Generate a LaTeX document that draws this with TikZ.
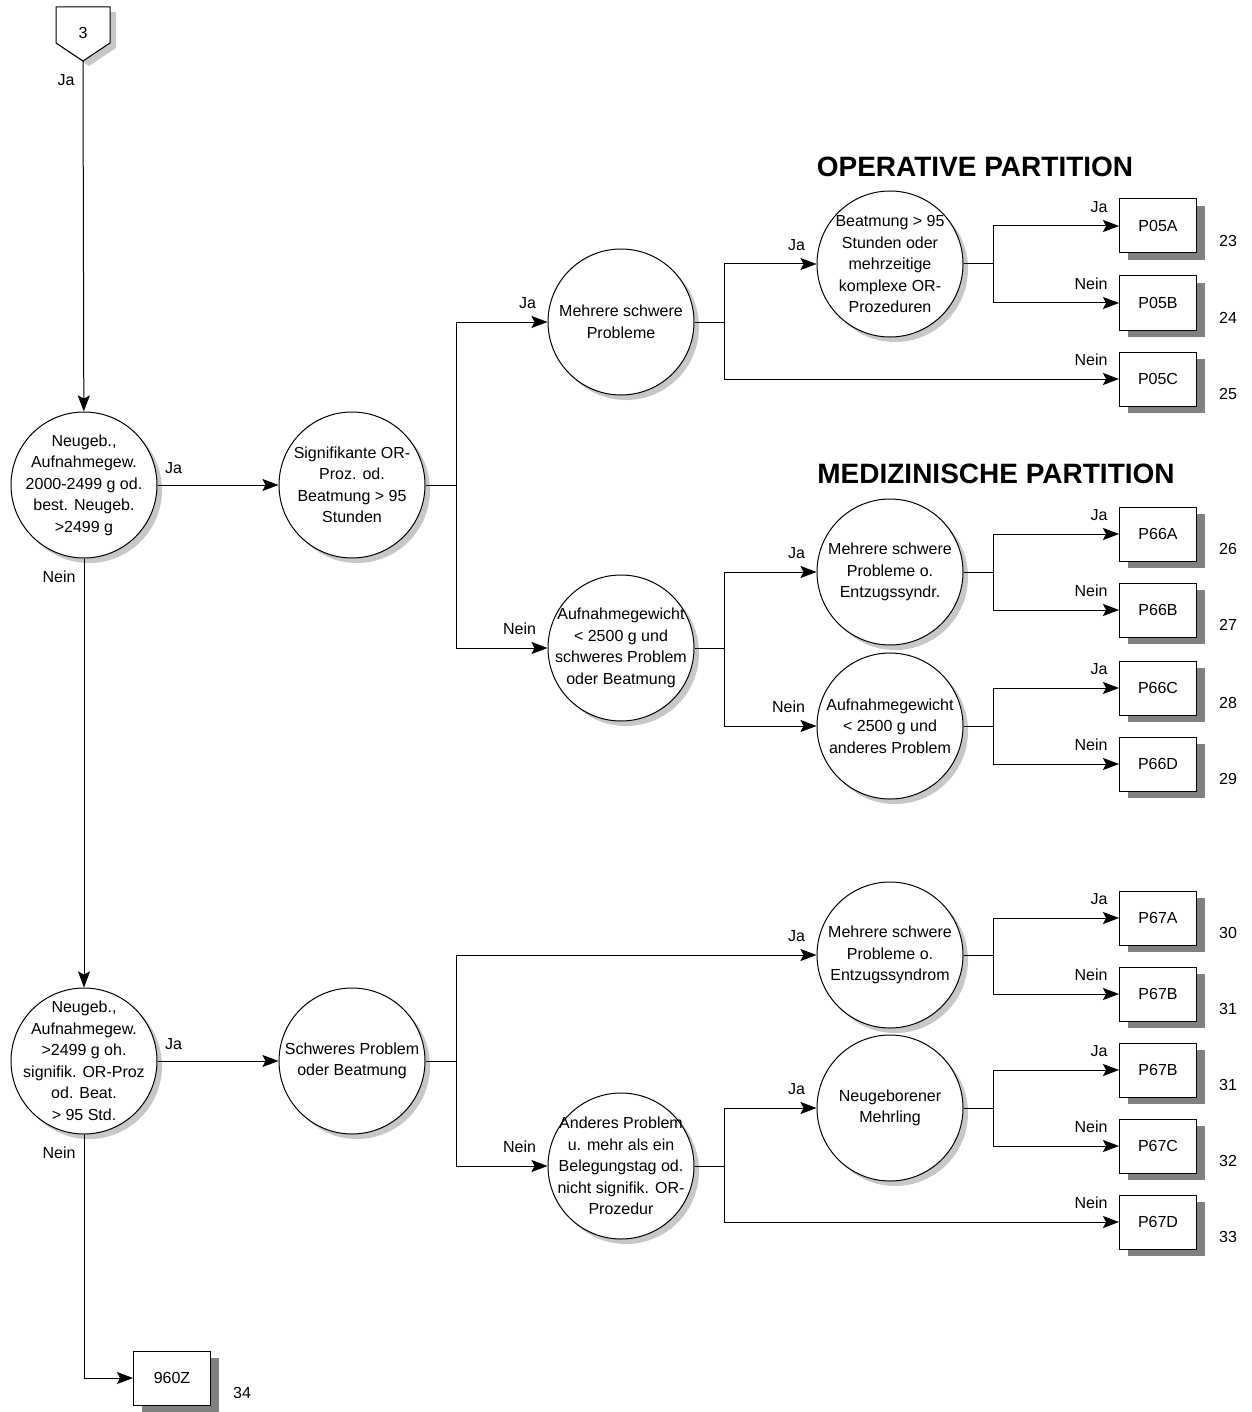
\documentclass[tikz,border=0pt]{standalone}
\usepackage{fontspec}
\setmainfont{Liberation Sans}
\usetikzlibrary{shadows, arrows.meta}

\begin{document}
\begin{tikzpicture}[x=1pt, y=-1pt, line width=1pt,
      every node/.style={font=\fontsize{16}{21.5}\selectfont},
      decision/.style={circle, draw, fill=white, minimum size=146pt, inner sep=0pt,
        drop shadow={shadow xshift=5pt, shadow yshift=-5pt, fill=black!22, opacity=1}},
      ctext/.style={align=center, inner sep=0pt},
      result/.style={draw, fill=white, minimum width=77pt, minimum height=54pt, inner sep=0pt,
        drop shadow={shadow xshift=8pt, shadow yshift=-7pt, fill=black!50, opacity=1}},
      num/.style={inner sep=0pt},
      arr/.style={-{Stealth[length=16pt, width=12pt, inset=3pt]}},
      yes/.style={pos=1, anchor=south east, inner sep=2pt, xshift=-9pt, yshift=11pt},
      head/.style={font=\fontsize{28}{32}\selectfont\bfseries}]
      \useasboundingbox (0,0) rectangle (1251,1412);

      % off-page connector
      \draw[fill=white, drop shadow={shadow xshift=6pt, shadow yshift=-5pt, fill=black!22, opacity=1}]
        (56,7) -- (110,7) -- (110,43) -- (83,61) -- (56,43) -- cycle;
      \coordinate (conn) at (83,61);
      \node (k3) at (83,33) {3};

      % headings
      \node[head] (h1) at (975,167) {OPERATIVE PARTITION};
      \node[head] (h2) at (996,474) {MEDIZINISCHE PARTITION};

      % decisions
      \node[decision, label={[ctext]center:{Neugeb.,\\Aufnahmegew.\\2000-2499 g od.\\best. Neugeb.\\>2499 g}}] (c1) at (84,485) {};
      \node[decision, label={[ctext]center:{Signifikante OR-\\Proz. od.\\Beatmung > 95\\Stunden}}] (c2) at (352,485) {};
      \node[decision, label={[ctext]center:{Mehrere schwere\\Probleme}}] (c3) at (621,322) {};
      \node[decision, label={[ctext]center:{Aufnahmegewicht\\< 2500 g und\\schweres Problem\\oder Beatmung}}] (c4) at (621,648) {};
      \node[decision, label={[ctext]center:{Beatmung > 95\\Stunden oder\\mehrzeitige\\komplexe OR-\\Prozeduren}}] (c5) at (890,264) {};
      \node[decision, label={[ctext]center:{Mehrere schwere\\Probleme o.\\Entzugssyndr.}}] (c6) at (890,572) {};
      \node[decision, label={[ctext]center:{Aufnahmegewicht\\< 2500 g und\\anderes Problem}}] (c7) at (890,726) {};
      \node[decision, label={[ctext]center:{Neugeb.,\\Aufnahmegew.\\>2499 g oh.\\signifik. OR-Proz\\od. Beat.\\> 95 Std.}}] (c8) at (84,1061) {};
      \node[decision, label={[ctext]center:{Schweres Problem\\oder Beatmung}}] (c9) at (352,1061) {};
      \node[decision, label={[ctext]center:{Mehrere schwere\\Probleme o.\\Entzugssyndrom}}] (c10) at (890,955) {};
      \node[decision, label={[ctext]center:{Anderes Problem\\u. mehr als ein\\Belegungstag od.\\nicht signifik. OR-\\Prozedur}}] (c11) at (621,1166) {};
      \node[decision, label={[ctext]center:{Neugeborener\\Mehrling}}] (c12) at (890,1108) {};

      % results
      \node[result] (p05a) at (1158,226) {P05A};
      \node[result] (p05b) at (1158,303) {P05B};
      \node[result] (p05c) at (1158,379) {P05C};
      \node[result] (p66a) at (1158,534) {P66A};
      \node[result] (p66b) at (1158,610) {P66B};
      \node[result] (p66c) at (1158,688) {P66C};
      \node[result] (p66d) at (1158,764) {P66D};
      \node[result] (p67a) at (1158,918) {P67A};
      \node[result] (p67b) at (1158,994) {P67B};
      \node[result] (p67e) at (1158,1070) {P67B};
      \node[result] (p67c) at (1158,1146) {P67C};
      \node[result] (p67d) at (1158,1222) {P67D};
      \node[result] (z960) at (172,1378) {960Z};

      \node[num] (n23) at ([shift={(70,15)}]p05a.center) {23};
      \node[num] (n24) at ([shift={(70,15)}]p05b.center) {24};
      \node[num] (n25) at ([shift={(70,15)}]p05c.center) {25};
      \node[num] (n26) at ([shift={(70,15)}]p66a.center) {26};
      \node[num] (n27) at ([shift={(70,15)}]p66b.center) {27};
      \node[num] (n28) at ([shift={(70,15)}]p66c.center) {28};
      \node[num] (n29) at ([shift={(70,15)}]p66d.center) {29};
      \node[num] (n30) at ([shift={(70,15)}]p67a.center) {30};
      \node[num] (n31) at ([shift={(70,15)}]p67b.center) {31};
      \node[num] (n31b) at ([shift={(70,15)}]p67e.center) {31};
      \node[num] (n32) at ([shift={(70,15)}]p67c.center) {32};
      \node[num] (n33) at ([shift={(70,15)}]p67d.center) {33};
      \node[num] (n34) at ([shift={(70,15)}]z960.center) {34};

      % branch points
      \coordinate (b2) at (456,485);
      \coordinate (b3) at (724,322);
      \coordinate (b4) at (724,648);
      \coordinate (b5) at (993,264);
      \coordinate (b6) at (993,572);
      \coordinate (b7) at (993,726);
      \coordinate (b9) at (456,1061);
      \coordinate (b10) at (993,955);
      \coordinate (b11) at (724,1166);
      \coordinate (b12) at (993,1108);

      % main column
      \draw[arr] (conn) -- node[pos=0, anchor=north east, inner sep=2pt, xshift=-6pt, yshift=-11pt] (l0) {Ja} (c1);
      \draw[arr] (c1) -- node[pos=0, anchor=north east, inner sep=2pt, xshift=-6pt, yshift=-10pt] (l1) {Nein} (c8);
      \draw[arr] (c8) |- node[pos=0, anchor=north east, inner sep=2pt, xshift=-6pt, yshift=-10pt] (l2) {Nein} (z960);
      \draw[arr] (c1) -- node[pos=0, anchor=south west, inner sep=2pt, xshift=5pt, yshift=9pt] (l3) {Ja} (c2);
      \draw[arr] (c8) -- node[pos=0, anchor=south west, inner sep=2pt, xshift=5pt, yshift=9pt] (l4) {Ja} (c9);

      % operative / medizinische partition
      \draw (c2) -- (b2);
      \draw[arr] (b2) |- node[yes] {Ja} (c3);
      \draw[arr] (b2) |- node[yes] {Nein} (c4);
      \draw (c3) -- (b3);
      \draw[arr] (b3) |- node[yes] {Ja} (c5);
      \draw[arr] (b3) |- node[yes] {Nein} (p05c);
      \draw (c5) -- (b5);
      \draw[arr] (b5) |- node[yes] {Ja} (p05a);
      \draw[arr] (b5) |- node[yes] {Nein} (p05b);
      \draw (c4) -- (b4);
      \draw[arr] (b4) |- node[yes] {Ja} (c6);
      \draw[arr] (b4) |- node[yes] {Nein} (c7);
      \draw (c6) -- (b6);
      \draw[arr] (b6) |- node[yes] {Ja} (p66a);
      \draw[arr] (b6) |- node[yes] {Nein} (p66b);
      \draw (c7) -- (b7);
      \draw[arr] (b7) |- node[yes] {Ja} (p66c);
      \draw[arr] (b7) |- node[yes] {Nein} (p66d);

      % lower tree
      \draw (c9) -- (b9);
      \draw[arr] (b9) |- node[yes] {Ja} (c10);
      \draw[arr] (b9) |- node[yes] {Nein} (c11);
      \draw (c10) -- (b10);
      \draw[arr] (b10) |- node[yes] {Ja} (p67a);
      \draw[arr] (b10) |- node[yes] {Nein} (p67b);
      \draw (c11) -- (b11);
      \draw[arr] (b11) |- node[yes] {Ja} (c12);
      \draw[arr] (b11) |- node[yes] {Nein} (p67d);
      \draw (c12) -- (b12);
      \draw[arr] (b12) |- node[yes] {Ja} (p67e);
      \draw[arr] (b12) |- node[yes] {Nein} (p67c);
\end{tikzpicture}
\end{document}
